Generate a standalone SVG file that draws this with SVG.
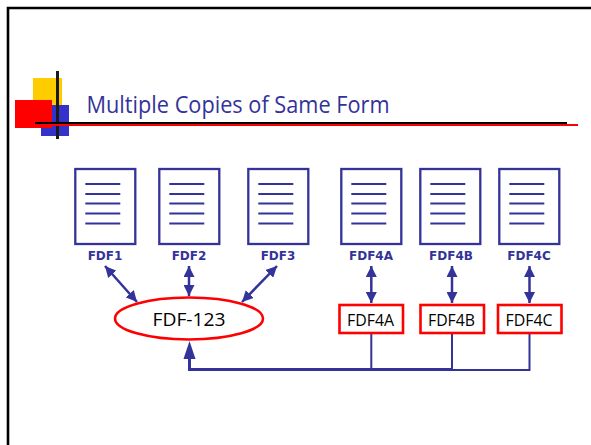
<svg xmlns="http://www.w3.org/2000/svg" width="591" height="445" viewBox="0 0 591 445">
<defs>
<g id="doc"><rect x="0" y="0" width="60" height="75" class="page"/><path class="lines" d="M10 15H45M10 25H45M10 34.500H45M10 44.500H45M10 54.500H45"/></g>
<marker id="ah" viewBox="0 0 11 11" refX="11" refY="5.500" markerWidth="11" markerHeight="11" markerUnits="userSpaceOnUse" orient="auto-start-reverse"><path d="M0 0L11 5.500L0 11Z" fill="#333399"/></marker>
</defs>
<style>
.page{fill:#fff;stroke:#333399;stroke-width:2.300}
.lines{fill:none;stroke:#333399;stroke-width:2}
.cap{font:bold 12px "DejaVu Sans",sans-serif;fill:#333399;text-anchor:middle}
.lab{font:16.500px "Open Sans","DejaVu Sans",sans-serif;fill:#000;text-anchor:middle}
.box{fill:#fff;stroke:#ff0000;stroke-width:2.600}
.arrow{fill:none;stroke:#333399;stroke-width:2.500;marker-start:url(#ah);marker-end:url(#ah)}
.bus{fill:none;stroke:#333399;stroke-width:2}
</style>
<rect width="591" height="445" fill="#fff"/>
<path d="M8 445V8H591" fill="none" stroke="#000" stroke-width="2.600"/>
<rect x="33" y="78" width="29" height="30" fill="#ffcc00"/>
<rect x="41" y="105" width="28" height="31" fill="#3333cc"/>
<rect x="15" y="100" width="37" height="28" fill="#ff0000"/>
<rect x="56" y="71" width="3" height="68" fill="#1a1a1a"/>
<rect x="36" y="124" width="542" height="2" fill="#ff0000"/>
<rect x="35" y="122" width="532" height="2" fill="#000"/>
<text x="86.500" y="113" font-family="Open Sans, DejaVu Sans, sans-serif" font-size="23" fill="#333399" textLength="303" lengthAdjust="spacingAndGlyphs">Multiple Copies of Same Form</text>
<g id="connectors">
<path class="arrow" d="M105 266L137 302"/>
<path class="arrow" d="M189 266V296"/>
<path class="arrow" d="M277 266L242 302"/>
<path class="arrow" d="M371.300 266V303"/>
<path class="arrow" d="M452 266V303"/>
<path class="arrow" d="M529.500 266V303"/>
<path class="bus" d="M371.300 334V369M452 334V369M529.500 334V370H452"/>
<path d="M189.500 358V369.500H452" fill="none" stroke="#333399" stroke-width="3"/>
<path d="M183.500 359L189.500 341L195.500 359Z" fill="#333399"/>
</g>
<g id="fdf1"><use href="#doc" x="75.300" y="169"/><text class="cap" x="105" y="260">FDF1</text></g>
<g id="fdf2"><use href="#doc" x="159.300" y="169"/><text class="cap" x="189" y="260">FDF2</text></g>
<g id="fdf3"><use href="#doc" x="248.300" y="169"/><text class="cap" x="278" y="260">FDF3</text></g>
<g id="fdf4a-doc"><use href="#doc" x="341.300" y="169"/><text class="cap" x="371" y="260">FDF4A</text></g>
<g id="fdf4b-doc"><use href="#doc" x="420.300" y="169"/><text class="cap" x="451" y="260">FDF4B</text></g>
<g id="fdf4c-doc"><use href="#doc" x="499.300" y="169"/><text class="cap" x="529" y="260">FDF4C</text></g>
<g id="fdf-123"><ellipse class="box" cx="189" cy="318.500" rx="74" ry="21"/><text class="lab" x="189" y="325.500" style="font-size:19px" textLength="73" lengthAdjust="spacingAndGlyphs">FDF-123</text></g>
<g id="fdf4a"><rect class="box" x="339.500" y="305" width="63.500" height="28"/><text class="lab" x="370.500" y="326" textLength="47" lengthAdjust="spacingAndGlyphs">FDF4A</text></g>
<g id="fdf4b"><rect class="box" x="420.500" y="305" width="63.500" height="28"/><text class="lab" x="451.500" y="326" textLength="47" lengthAdjust="spacingAndGlyphs">FDF4B</text></g>
<g id="fdf4c"><rect class="box" x="498" y="305" width="63.500" height="28"/><text class="lab" x="529" y="326" textLength="47" lengthAdjust="spacingAndGlyphs">FDF4C</text></g>
</svg>
